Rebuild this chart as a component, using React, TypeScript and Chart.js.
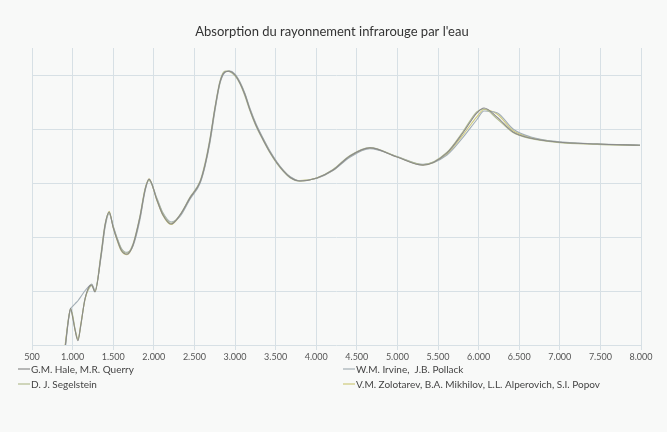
import React, { useEffect, useRef } from 'react';
import { Chart, registerables } from 'chart.js';

Chart.register(...registerables);

const chartTitle = "Absorption du rayonnement infrarouge par l'eau";

// wavelength in nm
const wavelengths = [
  900, 950, 975, 1000, 1030, 1066, 1100, 1150, 1200, 1235,
  1276, 1350, 1400, 1450, 1500, 1550, 1600, 1670, 1744, 1830,
  1892, 1941, 2039, 2113, 2212, 2323, 2446, 2569, 2630, 2692,
  2754, 2815, 2877, 2926, 3000, 3062, 3124, 3185, 3259, 3345,
  3431, 3517, 3600, 3677, 3800, 4010, 4207, 4416, 4662, 4995,
  5315, 5611, 5808, 5980, 6067, 6227, 6424, 6633, 6966, 7458,
  7988,
];

// absorption coefficient (cm-1)
const hale = [
  0.07, 0.30, 0.48, 0.33, 0.19, 0.12, 0.23, 0.68, 1.19, 1.29,
  0.96, 4.6, 16.7, 29, 15, 8.8, 5.7, 4.8, 7.1, 23.5,
  74, 118, 48, 25.5, 17.4, 25.5, 53, 104, 215, 631,
  2455, 7400, 11400, 11700, 10000, 7070, 4260, 2240, 1170, 640,
  370, 235, 165, 128, 109, 124, 174, 316, 447, 302,
  214, 361, 851, 1995, 2455, 1660, 880, 680, 575, 527,
  500,
];
const segelstein = [
  0.07, 0.32, 0.45, 0.36, 0.2, 0.13, 0.22, 0.7, 1.1, 1.25,
  1.0, 5.0, 17.5, 28, 15.5, 9.2, 6.0, 5.0, 7.5, 25,
  78, 112, 50, 27, 18, 26, 55, 108, 230, 680,
  2600, 7800, 11800, 11600, 9600, 6800, 4000, 2150, 1120, 620,
  360, 228, 160, 125, 108, 125, 178, 325, 455, 305,
  218, 372, 900, 2100, 2350, 1550, 860, 670, 565, 520,
  495,
];
const irvine = [
  0.06, 0.3, 0.46, 0.52, 0.58, 0.66, 0.78, 1.0, 1.22, 1.35,
  1.05, 4.2, 15, 27, 16, 9.5, 6.2, 5.2, 6.8, 21,
  70, 115, 52, 28, 19, 24, 50, 98, 200, 560,
  2200, 7000, 11200, 11900, 10400, 7400, 4500, 2400, 1250, 680,
  390, 245, 170, 132, 110, 122, 170, 300, 430, 310,
  222, 330, 700, 1500, 2150, 2000, 1000, 720, 585, 532,
  505,
];
const zolotarev = [
  0.08, 0.31, 0.47, 0.34, 0.19, 0.125, 0.24, 0.66, 1.15, 1.3,
  0.98, 4.4, 16, 30, 15, 8.5, 5.5, 4.7, 7.0, 23,
  76, 120, 47, 25, 17, 25, 52, 102, 210, 600,
  2350, 7200, 11500, 11800, 10200, 7200, 4350, 2300, 1200, 660,
  380, 240, 168, 130, 111, 123, 172, 310, 440, 306,
  216, 345, 780, 1700, 2300, 1900, 940, 700, 575, 526,
  498,
];

const seriesNames = [
  'G.M. Hale, M.R. Querry',
  'D. J. Segelstein',
  'W.M. Irvine,  J.B. Pollack',
  'V.M. Zolotarev, B.A. Mikhilov, L.L. Alperovich, S.I. Popov',
];
const seriesColors = ['#8a8a8a', '#b4bd92', '#a3aeb5', '#cfca7c'];

const xTickLabels = [
  '500', '1.000', '1.500', '2.000', '2.500', '3.000', '3.500', '4.000',
  '4.500', '5.000', '5.500', '6.000', '6.500', '7.000', '7.500', '8.000',
];
const yGridValues = [0.1, 1, 10, 100, 1000, 10000];

const GRID = '#d7e0e5';

const textPlugin = {
  id: 'textPlugin',
  afterDraw(chart: any) {
    const ctx = chart.ctx;
    ctx.save();
    ctx.fillStyle = '#333';
    ctx.font = '13px Lato, sans-serif';
    ctx.textAlign = 'center';
    ctx.textBaseline = 'middle';
    ctx.fillText(chartTitle, 332, 32);

    ctx.font = '10px Lato, sans-serif';
    ctx.textAlign = 'left';
    chart.data.datasets.forEach((ds: any, i: number) => {
      const col = Math.floor(i / 2);
      const row = i % 2;
      const x0 = col === 0 ? 18 : 343;
      const y = 369 + row * 15;
      ctx.strokeStyle = ds.borderColor;
      ctx.lineWidth = 1.2;
      ctx.beginPath();
      ctx.moveTo(x0, y);
      ctx.lineTo(x0 + 12, y);
      ctx.stroke();
      ctx.fillStyle = '#444';
      ctx.fillText(ds.label, x0 + 13, y + 0.5);
    });
    ctx.restore();
  },
};

export default function App() {
  const ref = useRef<HTMLCanvasElement | null>(null);
  useEffect(() => {
    if (!ref.current) return;
    const series = [hale, segelstein, irvine, zolotarev];
    const chart = new Chart(ref.current, {
      type: 'line',
      data: {
        datasets: series.map((vals, i) => ({
          label: seriesNames[i],
          data: wavelengths.map((x, j) => ({ x, y: vals[j] })),
          borderColor: seriesColors[i],
          borderWidth: 1.1,
          pointRadius: 0,
          fill: false,
          cubicInterpolationMode: 'monotone' as const,
        })),
      },
      options: {
        animation: false,
        responsive: false,
        maintainAspectRatio: false,
        layout: { padding: { left: 32, right: 26, top: 48, bottom: 67 } },
        plugins: {
          legend: { display: false },
          title: { display: false },
          tooltip: { enabled: false },
        },
        scales: {
          x: {
            type: 'linear',
            min: 500,
            max: 8000,
            ticks: {
              stepSize: 500,
              autoSkip: false,
              maxRotation: 0,
              padding: 2,
              color: '#555',
              font: { family: 'Lato', size: 9 },
              callback: (_v: any, i: number) => xTickLabels[i],
            },
            grid: { color: GRID, tickLength: 5, drawTicks: true },
            border: { display: false },
            afterFit: (s: any) => { s.height = 20; },
          },
          y: {
            type: 'logarithmic',
            min: 0.1,
            max: 31623,
            ticks: { display: false },
            afterBuildTicks: (s: any) => { s.ticks = yGridValues.map((v) => ({ value: v })); },
            grid: { color: GRID, drawTicks: false },
            border: { display: false },
            afterFit: (s: any) => { s.width = 0; },
          },
        },
      } as any,
      plugins: [textPlugin],
    });
    return () => chart.destroy();
  }, []);
  return (
    <div style={{ position: 'absolute', left: 0, top: 0, width: 667, height: 432, background: '#f8f9f8' }}>
      <canvas ref={ref} width={667} height={432} />
    </div>
  );
}
